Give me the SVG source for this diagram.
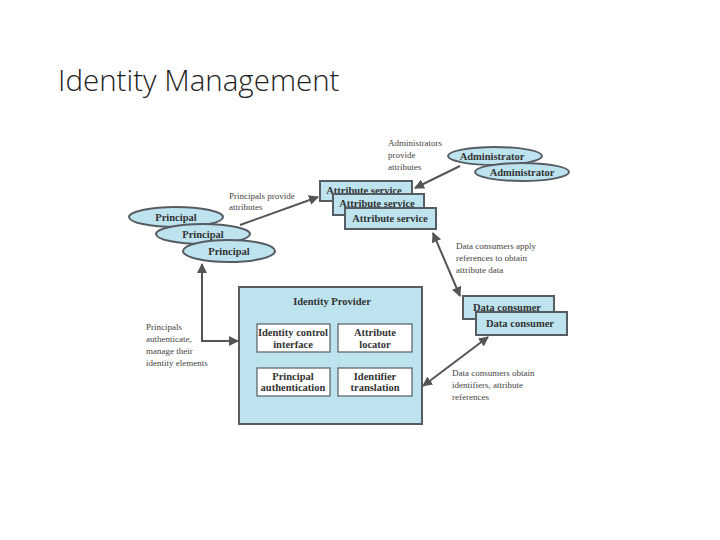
<svg xmlns="http://www.w3.org/2000/svg" width="720" height="540" viewBox="0 0 720 540">
<style>
.n{fill:#bde3ef;stroke:#555c62;stroke-width:2}
.b{fill:#fff;stroke:#555c62;stroke-width:1.2}
.t{font-family:"Liberation Serif",serif;font-weight:bold;font-size:10.5px;fill:#333;text-anchor:middle}
.l{font-family:"Liberation Serif",serif;font-size:9px;fill:#444}
.c{stroke:#555;stroke-width:2;fill:none}
</style>
<defs>
<marker id="a" viewBox="0 0 10 10" refX="9" refY="5" markerWidth="5" markerHeight="5" orient="auto-start-reverse"><path d="M0,0L10,5L0,10z" fill="#555"/></marker>
</defs>
<rect width="720" height="540" fill="#fff"/>
<text x="58" y="91" font-family="Open Sans,sans-serif" font-weight="300" font-size="29.5" fill="#222">Identity Management</text>
<g id="connectors">
<path class="c" d="M240,225L318,197" marker-end="url(#a)"/>
<path class="c" d="M460,166L415,188" marker-end="url(#a)"/>
<path class="c" d="M433,233L460,296" marker-start="url(#a)" marker-end="url(#a)"/>
<path class="c" d="M202,264V341H238" marker-start="url(#a)" marker-end="url(#a)"/>
<path class="c" d="M488,337L423,386" marker-start="url(#a)" marker-end="url(#a)"/>
</g>
<g class="l">
<text x="388" y="146">Administrators</text><text x="388" y="158">provide</text><text x="388" y="170">attributes</text>
<text x="229" y="199">Principals provide</text><text x="229" y="210">attributes</text>
<text x="456" y="249">Data consumers apply</text><text x="456" y="261">references to obtain</text><text x="456" y="273">attribute data</text>
<text x="146" y="330">Principals</text><text x="146" y="342">authenticate,</text><text x="146" y="354">manage their</text><text x="146" y="366">identity elements</text>
<text x="452" y="376">Data consumers obtain</text><text x="452" y="388">identifiers, attribute</text><text x="452" y="400">references</text>
</g>
<g id="admin1"><ellipse class="n" cx="495" cy="156" rx="47" ry="9"/><text class="t" x="492" y="160">Administrator</text></g>
<g id="admin2"><ellipse class="n" cx="522" cy="172" rx="47" ry="9"/><text class="t" x="522" y="176">Administrator</text></g>
<g id="as1"><rect class="n" x="320" y="181" width="92" height="20"/><text class="t" x="364" y="194">Attribute service</text></g>
<g id="as2"><rect class="n" x="333" y="194" width="91" height="21"/><text class="t" x="377" y="207">Attribute service</text></g>
<g id="as3"><rect class="n" x="345" y="208" width="91" height="21"/><text class="t" x="390" y="222">Attribute service</text></g>
<g id="p1"><ellipse class="n" cx="176" cy="217" rx="47" ry="10"/><text class="t" x="176" y="221">Principal</text></g>
<g id="p2"><ellipse class="n" cx="203" cy="234" rx="47" ry="10"/><text class="t" x="203" y="238">Principal</text></g>
<g id="p3"><ellipse class="n" cx="229" cy="251" rx="46" ry="11"/><text class="t" x="229" y="255">Principal</text></g>
<g id="idp"><rect class="n" x="239" y="287" width="183" height="137" stroke-width="1.5"/><text class="t" x="332" y="305">Identity Provider</text>
<rect class="b" x="257" y="324" width="73" height="28"/><text class="t" x="293" y="336">Identity control</text><text class="t" x="293" y="348">interface</text>
<rect class="b" x="338" y="324" width="74" height="28"/><text class="t" x="375" y="336">Attribute</text><text class="t" x="375" y="348">locator</text>
<rect class="b" x="257" y="368" width="73" height="28"/><text class="t" x="293" y="380">Principal</text><text class="t" x="293" y="391">authentication</text>
<rect class="b" x="338" y="368" width="74" height="28"/><text class="t" x="375" y="380">Identifier</text><text class="t" x="375" y="391">translation</text>
</g>
<g id="dc1"><rect class="n" x="463" y="296" width="91" height="23"/><text class="t" x="507" y="311">Data consumer</text></g>
<g id="dc2"><rect class="n" x="476" y="312" width="91" height="23"/><text class="t" x="520" y="327">Data consumer</text></g>
</svg>
